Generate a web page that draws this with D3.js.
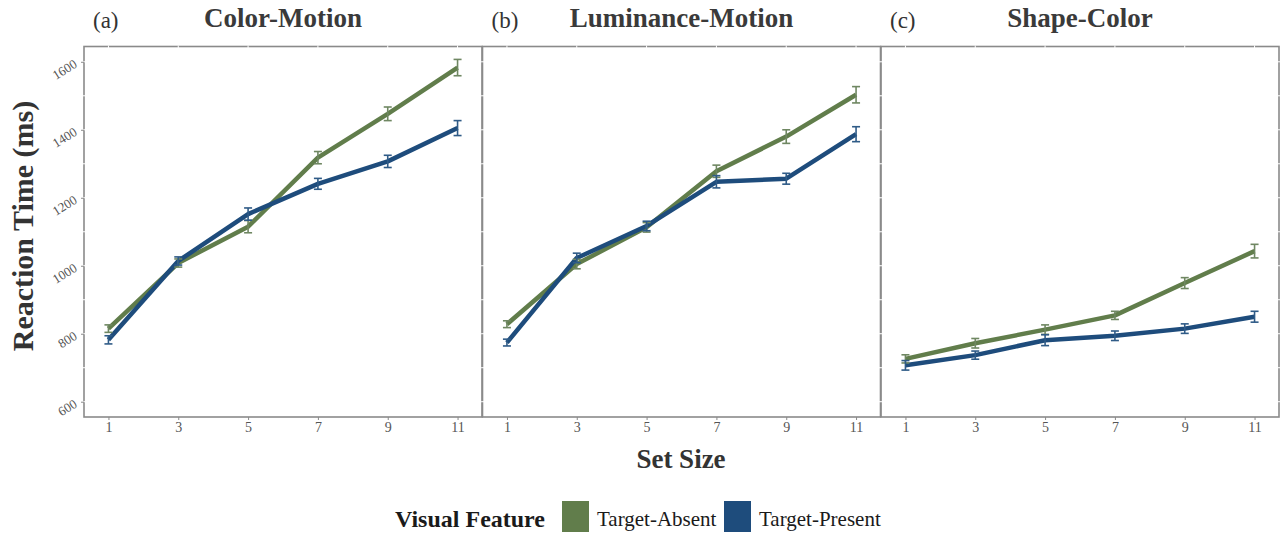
<html>
<head>
<meta charset="utf-8">
<style>
  body { margin: 0; background: #fff; }
  text { font-family: "Liberation Serif", "Times New Roman", serif; }
</style>
</head>
<body>
<svg id="chart" width="1280" height="533"></svg>
<script src="https://d3js.org/d3.v7.min.js"></script>
<script>
// data (ms)
const setSizes = [1, 3, 5, 7, 9, 11]
const panelNames = ["Color-Motion", "Luminance-Motion", "Shape-Color"]
const panelTags = ["(a)", "(b)", "(c)"]
const yTicks = [600, 800, 1000, 1200, 1400, 1600]

const absentRT = [
  [815, 1008, 1115, 1318, 1447, 1583],
  [828, 1005, 1113, 1278, 1380, 1503],
  [726, 772, 812, 854, 949, 1043]
]
const absentSE = [
  [11, 12, 18, 18, 20, 24],
  [10, 14, 14, 18, 20, 24],
  [12, 14, 14, 12, 16, 20]
]
const presentRT = [
  [782, 1014, 1152, 1241, 1307, 1405],
  [774, 1023, 1117, 1247, 1256, 1387],
  [707, 737, 781, 794, 815, 850]
]
const presentSE = [
  [12, 12, 18, 16, 18, 22],
  [10, 14, 14, 18, 16, 22],
  [14, 12, 16, 14, 14, 16]
]
const seriesNames = ["Target-Absent", "Target-Present"]
const seriesColors = ["#617d4b", "#1e4c7c"]
const barColors = ["#6f8762", "#2f5b87"]

const svg = d3.select("#chart")
const panelLeft = [84, 482.5, 881]
const panelW = 398
const plotTop = 46.5, plotBottom = 417

const x = d3.scaleLinear().domain([0.3, 11.7]).range([0, panelW])
const y = d3.scaleLinear().domain([555, 1645]).range([plotBottom, plotTop])
const gridY = d3.range(600, 1601, 100)

panelNames.forEach((name, p) => {
  const g = svg.append("g").attr("transform", `translate(${panelLeft[p]},0)`)

  // panel border
  g.append("rect")
    .attr("x", 0).attr("y", plotTop)
    .attr("width", panelW).attr("height", plotBottom - plotTop)
    .attr("fill", "none").attr("stroke", "#8a8a8a").attr("stroke-width", 1.6)

  // white grid (only shows where it crosses the border)
  g.selectAll(".gy").data(gridY).enter().append("line")
    .attr("x1", -1).attr("x2", panelW + 1)
    .attr("y1", d => y(d)).attr("y2", d => y(d))
    .attr("stroke", "#fff").attr("stroke-width", 1)
  g.selectAll(".gx").data(setSizes).enter().append("line")
    .attr("x1", d => x(d)).attr("x2", d => x(d))
    .attr("y1", plotTop - 1).attr("y2", plotBottom - 2)
    .attr("stroke", "#fff").attr("stroke-width", 1)

  // x axis
  const xAxis = d3.axisBottom(x).tickValues(setSizes).tickSize(3).tickPadding(2)
  const xg = g.append("g").attr("transform", `translate(0,${plotBottom})`).call(xAxis)
  xg.select(".domain").remove()
  xg.selectAll("line").attr("stroke", "#8a8a8a")
  xg.selectAll("text").attr("fill", "#555").style("font-size", "14px")

  if (p === 0) {
    const yAxis = d3.axisLeft(y).tickValues(yTicks).tickFormat(d3.format("d")).tickSize(3)
    const yg = g.append("g").call(yAxis)
    yg.select(".domain").remove()
    yg.selectAll("line").attr("stroke", "#8a8a8a")
    yg.selectAll("text")
      .attr("fill", "#555").style("font-size", "13px")
      .attr("x", null).attr("dy", null)
      .attr("text-anchor", "end")
      .attr("transform", "translate(-6,4) rotate(-32)")
  }

  // tag and title
  g.append("text").attr("x", 9).attr("y", 28)
    .attr("fill", "#333").style("font-size", "23px").text(panelTags[p])
  g.append("text").attr("x", panelW / 2).attr("y", 27)
    .attr("text-anchor", "middle").attr("fill", "#3a3a3a")
    .style("font-size", "27px").style("font-weight", "bold").text(name)

  const series = [
    { rt: absentRT[p], se: absentSE[p] },
    { rt: presentRT[p], se: presentSE[p] }
  ]
  const line = d3.line().x(d => x(d.s)).y(d => y(d.v))

  series.forEach((s, k) => {
    const pts = setSizes.map((sz, i) => ({ s: sz, v: s.rt[i], e: s.se[i] }))
    g.append("path").datum(pts)
      .attr("d", line)
      .attr("fill", "none")
      .attr("stroke", seriesColors[k])
      .attr("stroke-width", 4.5)
      .attr("stroke-linejoin", "round")
  })

  series.forEach((s, k) => {
    const pts = setSizes.map((sz, i) => ({ s: sz, v: s.rt[i], e: s.se[i] }))
    const eb = g.append("g").attr("stroke", barColors[k]).attr("stroke-width", 1.6)
    eb.selectAll(".v").data(pts).enter().append("line")
      .attr("x1", d => x(d.s)).attr("x2", d => x(d.s))
      .attr("y1", d => y(d.v - d.e)).attr("y2", d => y(d.v + d.e))
    eb.selectAll(".t").data(pts).enter().append("line")
      .attr("x1", d => x(d.s) - 4).attr("x2", d => x(d.s) + 4)
      .attr("y1", d => y(d.v + d.e)).attr("y2", d => y(d.v + d.e))
    eb.selectAll(".b").data(pts).enter().append("line")
      .attr("x1", d => x(d.s) - 4).attr("x2", d => x(d.s) + 4)
      .attr("y1", d => y(d.v - d.e)).attr("y2", d => y(d.v - d.e))
  })
})

// axis titles
svg.append("text")
  .attr("transform", "translate(33,226) rotate(-90)")
  .attr("text-anchor", "middle").attr("fill", "#333")
  .style("font-size", "30px").style("font-weight", "bold")
  .text("Reaction Time (ms)")

svg.append("text")
  .attr("x", 681).attr("y", 468)
  .attr("text-anchor", "middle").attr("fill", "#333")
  .style("font-size", "27px").style("font-weight", "bold")
  .text("Set Size")

// legend
const legend = svg.append("g")
legend.append("text").attr("x", 395).attr("y", 527)
  .attr("fill", "#1a1a1a").style("font-size", "24px").style("font-weight", "bold")
  .text("Visual Feature")
const legendX = [562, 724]
seriesNames.forEach((n, k) => {
  legend.append("rect")
    .attr("x", legendX[k]).attr("y", 501)
    .attr("width", 27).attr("height", 31)
    .attr("fill", seriesColors[k])
  legend.append("text")
    .attr("x", legendX[k] + 35).attr("y", 526)
    .attr("fill", "#1a1a1a").style("font-size", "21px")
    .text(n)
})
</script>
</body>
</html>
